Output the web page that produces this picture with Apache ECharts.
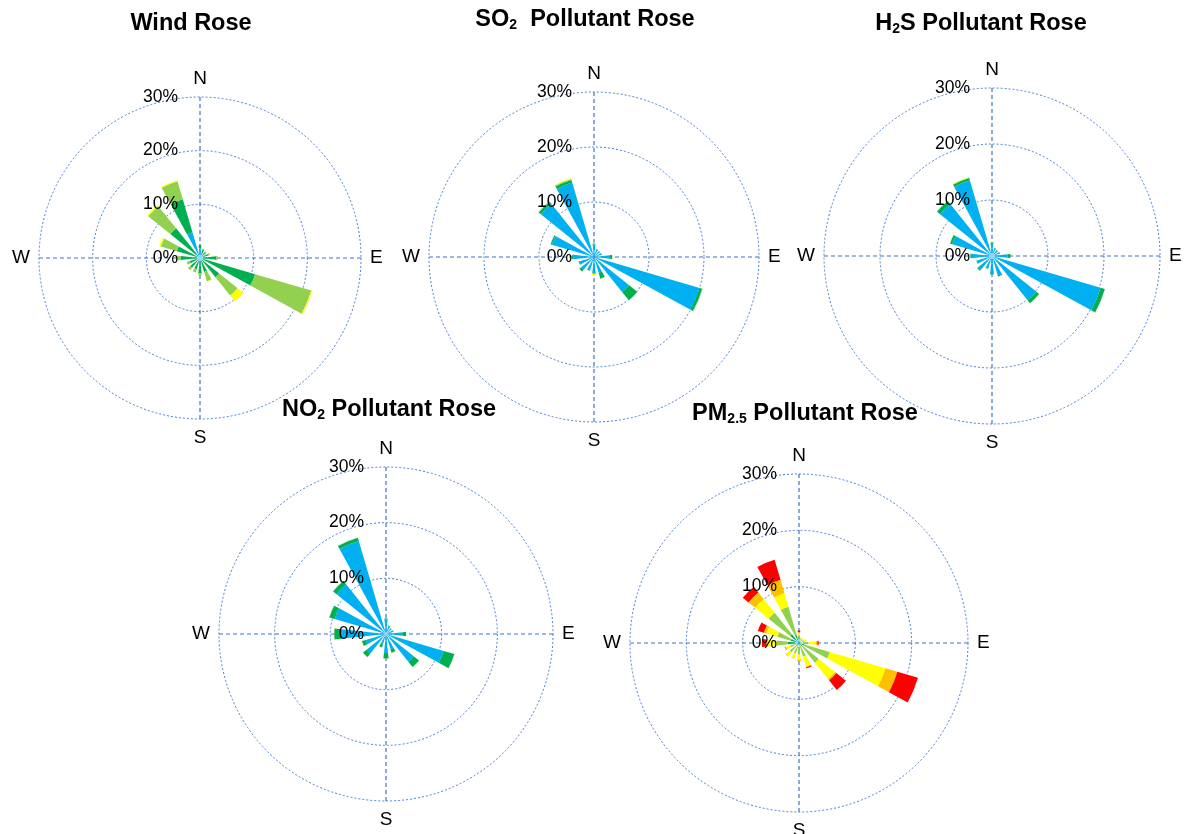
<!DOCTYPE html>
<html>
<head>
<meta charset="utf-8">
<script src="https://cdn.jsdelivr.net/npm/echarts@6/dist/echarts.min.js"></script>
<style>
html,body{margin:0;padding:0;background:#fff;}
#chart{width:1188px;height:834px;}
</style>
</head>
<body>
<div id="chart"></div>
<script>
// ---------- data ----------
const directions = ['N','NNE','NE','ENE','E','ESE','SE','SSE','S','SSW','SW','WSW','W','WNW','NW','NNW'];
const radiusTicks = [0, 10, 20, 30];
const compassLabels = ['N', 'E', 'S', 'W'];

// Wind rose (percent frequency, stacked from centre outward)
const windCyan   = [1.8,0.8,0.6,0.6,0.6,0.5,0.5,0.5,0.8,0.6,0.5,0.5,0.6,0.6,1.0,5.0];
const windDGreen = [0.6,0.8,0.8,1.0,2.4,10.2,4.1,2.2,2.0,1.6,1.8,1.5,3.0,3.9,6.1,6.4];
const windLGreen = [0.0,0.2,0.2,0.3,0.3,10.9,4.4,1.8,0.4,0.6,0.6,0.6,0.9,3.1,5.3,3.5];
const windYellow = [0.0,0.0,0.0,0.0,0.0,0.2,1.4,0.1,0.0,0.0,0.0,0.0,0.0,0.3,0.2,0.2];

// SO2 pollutant rose
const so2Cyan    = [2.3,1.4,1.3,1.4,2.9,20.0,8.2,3.0,2.9,2.4,3.0,2.7,3.8,8.0,12.4,14.1];
const so2DGreen  = [0.1,0.1,0.1,0.1,0.4,0.5,1.9,1.1,0.1,0.2,0.4,0.2,0.2,0.2,0.5,0.5];
const so2LGreen  = [0.1,0.05,0.05,0.05,0.05,0.1,0.05,0.05,0.05,0.05,0.05,0.05,0.05,0.05,0.1,0.2];
const so2Yellow  = [0.1,0,0,0,0,0,0,0,0.3,0,0,0,0,0,0,0.1];

// H2S pollutant rose
const h2sCyan    = [2.3,1.4,1.3,1.4,2.8,20.2,10.2,3.6,3.2,2.3,3.2,2.8,3.8,7.4,11.9,14.1];
const h2sDGreen  = [0.1,0.1,0.1,0.1,0.5,0.8,0.6,0.2,0.1,0.1,0.2,0.1,0.1,0.4,0.7,0.4];
const h2sLGreen  = [0.1,0.05,0.05,0.05,0.05,0.05,0.05,0.05,0.05,0.05,0.05,0.05,0.05,0.05,0.05,0.1];
const h2sYellow  = [0.1,0,0,0,0,0,0,0,0,0,0,0,0,0,0,0.1];

// NO2 pollutant rose
const no2Cyan    = [2.6,1.5,1.2,1.3,3.0,10.8,6.4,2.8,3.4,2.0,4.5,3.8,8.1,9.6,11.4,17.4];
const no2DGreen  = [0.2,0.1,0.1,0.1,0.6,2.0,1.2,0.7,1.0,0.5,0.8,0.7,1.2,1.0,0.8,0.6];
const no2LGreen  = [0.05,0.05,0.05,0.05,0.05,0.05,0.05,0.05,0.05,0.05,0.05,0.05,0.05,0.05,0.05,0.05];

// PM2.5 pollutant rose
const pmCyan     = [0.3,0.2,0.2,0.2,0.2,0.2,0.2,0.2,0.2,0.2,0.2,0.2,0.5,0.5,0.8,0.5];
const pmDGreen   = [0.5,0.2,0.2,0.2,0.3,0.8,0.5,0.3,0.3,0.3,0.3,0.4,1.5,1.0,1.2,1.0];
const pmLGreen   = [0.5,0.4,0.4,0.6,1.2,4.7,3.8,2.0,1.5,1.4,1.6,1.0,2.0,2.5,4.9,5.2];
const pmYellow   = [0.4,0.2,0.2,0.3,1.3,10.3,3.7,1.9,1.0,0.9,0.9,0.8,1.6,2.0,3.1,2.5];
const pmOrange   = [0.2,0.1,0.1,0.1,0.3,2.2,0.3,0.1,0.2,0.1,0.1,0.1,0.2,0.5,1.5,2.5];
const pmRed      = [0.3,0.0,0.0,0.0,0.2,3.8,2.2,0.2,0.0,0.0,0.0,0.1,0.8,1.1,1.3,3.7];

// ---------- styling / layout ----------
const C = {cyan:'#00B0F0', dgreen:'#00B050', lgreen:'#92D050', yellow:'#FFFF00', orange:'#FFC000', red:'#FF0000'};
const FONT = 'Liberation Sans, Arial, sans-serif';

const roses = [
  {title:'{b|Wind Rose}', tx:191, ty:8, center:[200,258], radius:161,
   layers:[[windCyan,C.cyan],[windDGreen,C.dgreen],[windLGreen,C.lgreen],[windYellow,C.yellow]]},
  {title:'{b|SO}{s|2}{b|  Pollutant Rose}', tx:585, ty:4, center:[594,257], radius:165,
   layers:[[so2Cyan,C.cyan],[so2DGreen,C.dgreen],[so2LGreen,C.lgreen],[so2Yellow,C.yellow]]},
  {title:'{b|H}{s|2}{b|S Pollutant Rose}', tx:981, ty:8, center:[992,256], radius:168,
   layers:[[h2sCyan,C.cyan],[h2sDGreen,C.dgreen],[h2sLGreen,C.lgreen],[h2sYellow,C.yellow]]},
  {title:'{b|NO}{s|2}{b| Pollutant Rose}', tx:389, ty:394, center:[386,634], radius:167,
   layers:[[no2Cyan,C.cyan],[no2DGreen,C.dgreen],[no2LGreen,C.lgreen]]},
  {title:'{b|PM}{s|2.5}{b| Pollutant Rose}', tx:805, ty:398, center:[799,643], radius:169,
   layers:[[pmCyan,C.cyan],[pmDGreen,C.dgreen],[pmLGreen,C.lgreen],[pmYellow,C.yellow],[pmOrange,C.orange],[pmRed,C.red]]}
];

const polar = [], angleAxis = [], radiusAxis = [], series = [], title = [];
const rMax = radiusTicks[radiusTicks.length-1];
const rInt = radiusTicks[1] - radiusTicks[0];

roses.forEach((r, i) => {
  title.push({
    text: r.title, left: r.tx, top: r.ty, textAlign: 'center', padding: 0,
    textStyle: {rich: {
      b: {fontFamily: FONT, fontWeight: 'bold', fontSize: 23.5, color: '#000', lineHeight: 28, verticalAlign: 'bottom'},
      s: {fontFamily: FONT, fontWeight: 'bold', fontSize: 14, color: '#000', lineHeight: 13, verticalAlign: 'bottom'}
    }}
  });
  polar.push({center: r.center, radius: r.radius});
  polar.push({center: r.center, radius: r.radius});
  const pb = 2*i, po = 2*i+1;
  angleAxis.push({
    polarIndex: pb, type: 'category', data: directions, startAngle: 90 + 180/directions.length,
    boundaryGap: true, axisLine:{show:false}, axisTick:{show:false}, axisLabel:{show:false}, splitLine:{show:false}
  });
  radiusAxis.push({
    polarIndex: pb, type: 'value', min: radiusTicks[0], max: rMax, interval: rInt,
    axisLine:{show:false}, axisTick:{show:false}, axisLabel:{show:false},
    splitLine:{show:true, lineStyle:{color:'#4A7FD4', type:[2,2], width:1}}
  });
  angleAxis.push({
    polarIndex: po, type: 'value', min: 0, max: 360, interval: 90, startAngle: 90, clockwise: true,
    axisLine:{show:false}, axisTick:{show:false},
    axisLabel:{show:true, fontFamily: FONT, fontSize: 19, color:'#000', margin: 9,
      formatter: v => (v < 360) ? compassLabels[v/90] : ''},
    splitLine:{show:true, lineStyle:{color:'#3F72CC', type:[4,3], width:1.2}}
  });
  radiusAxis.push({
    polarIndex: po, type: 'value', min: radiusTicks[0], max: rMax, interval: rInt, z: 10,
    axisLine:{show:false}, axisTick:{show:false}, splitLine:{show:false},
    axisLabel:{show:true, fontFamily: FONT, fontSize: 17.5, color:'#000', margin: 22, formatter: '{value}%'}
  });
  r.layers.forEach(([vals, color]) => {
    series.push({
      type: 'bar', coordinateSystem: 'polar', polarIndex: pb, stack: 'rose' + i,
      data: vals, barCategoryGap: '45%', itemStyle: {color: color}, silent: true, animation: false
    });
  });
});

const chart = echarts.init(document.getElementById('chart'), null, {renderer: 'canvas'});
chart.setOption({
  animation: false,
  backgroundColor: '#fff',
  title, polar, angleAxis, radiusAxis, series
});
</script>
</body>
</html>
